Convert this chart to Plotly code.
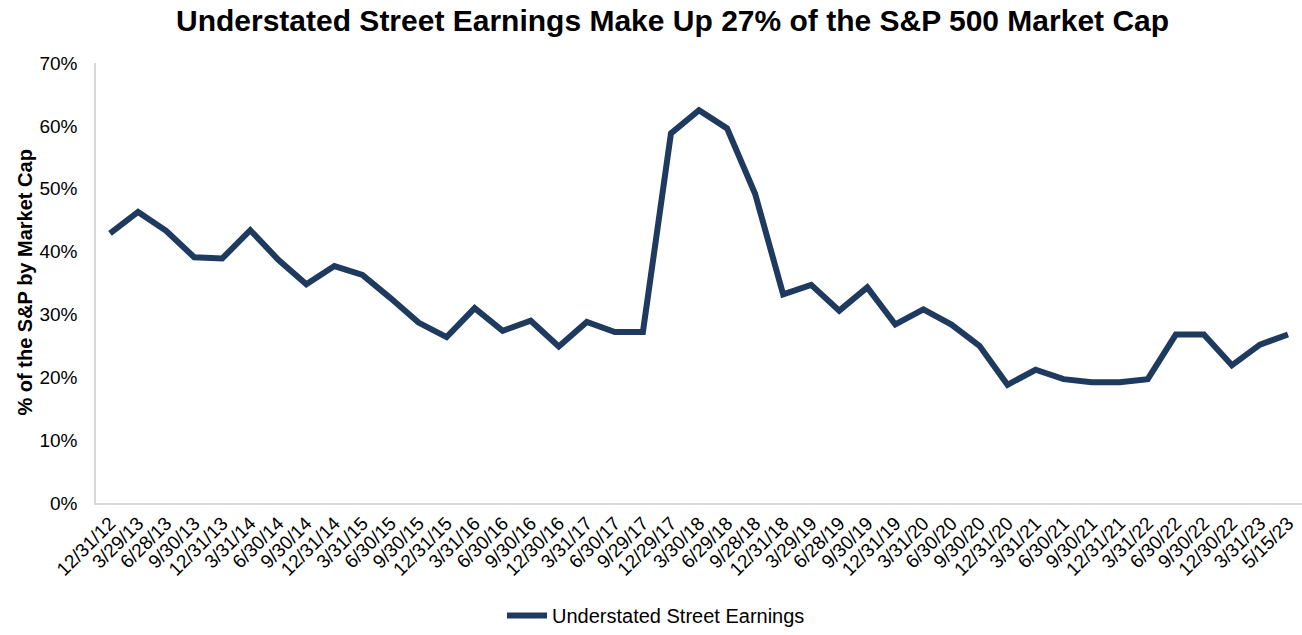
import plotly.graph_objects as go

dates = ["12/31/12","3/29/13","6/28/13","9/30/13","12/31/13","3/31/14","6/30/14","9/30/14",
         "12/31/14","3/31/15","6/30/15","9/30/15","12/31/15","3/31/16","6/30/16","9/30/16",
         "12/30/16","3/31/17","6/30/17","9/29/17","12/29/17","3/30/18","6/29/18","9/28/18",
         "12/31/18","3/29/19","6/28/19","9/30/19","12/31/19","3/31/20","6/30/20","9/30/20",
         "12/31/20","3/31/21","6/30/21","9/30/21","12/31/21","3/31/22","6/30/22","9/30/22",
         "12/30/22","3/31/23","5/15/23"]
values = [42.9, 46.3, 43.3, 39.1, 38.9, 43.4, 38.7, 34.8,
          37.7, 36.3, 32.6, 28.7, 26.4, 31.0, 27.4, 29.0,
          24.9, 28.8, 27.2, 27.2, 58.8, 62.5, 59.6, 49.2,
          33.2, 34.7, 30.6, 34.3, 28.4, 30.8, 28.4, 25.0,
          18.8, 21.2, 19.7, 19.2, 19.2, 19.7, 26.8, 26.8,
          21.9, 25.2, 26.8]
y_ticks = [0, 10, 20, 30, 40, 50, 60, 70]

navy = "#1F3A5F"
font_family = "Liberation Sans, Arial, sans-serif"

L, T, B = 96, 63, 508
PW, PH = 1302 - L, B - T

fig = go.Figure()
fig.add_trace(go.Scatter(
    x=dates, y=values, mode="lines", name="Understated Street Earnings",
    line=dict(color=navy, width=6, shape="linear"),
))

fig.update_layout(
    width=1302, height=635,
    margin=dict(l=L, r=0, t=T, b=635 - B),
    paper_bgcolor="white", plot_bgcolor="white",
    font=dict(family=font_family, color="#000000"),
    showlegend=True,
    legend=dict(orientation="h", x=(656 - L) / PW, xref="paper", xanchor="center",
                y=(B - 622) / PH, yanchor="middle", yref="paper",
                font=dict(size=20, family=font_family),
                itemwidth=40),
    annotations=[
        dict(text="<b>Understated Street Earnings Make Up 27% of the S&P 500 Market Cap</b>",
             xref="paper", yref="paper", x=(672 - L) / PW, y=(B - 20) / PH,
             xanchor="center", yanchor="middle", showarrow=False,
             font=dict(size=30, family=font_family)),
        dict(text="<b>% of the S&P by Market Cap</b>", xref="paper", yref="paper",
             x=-(L - 25) / PW, y=(B - 285) / PH, xanchor="center", yanchor="middle",
             textangle=-90, showarrow=False, font=dict(size=20, family=font_family)),
    ],
)

fig.update_xaxes(
    type="category", range=[-0.5, len(dates) - 0.5],
    showline=True, linecolor="#D9D9D9", linewidth=1.5,
    showgrid=False, ticks="", tickangle=-45,
    tickfont=dict(size=19, family=font_family),
    zeroline=False,
)
fig.update_yaxes(
    range=[0, 70], tickvals=y_ticks, ticktext=[f"{v}%" for v in y_ticks],
    showline=True, linecolor="#D9D9D9", linewidth=1.5,
    showgrid=False, zeroline=False, ticks="",
    ticklabelstandoff=13,
    tickfont=dict(size=19, family=font_family),
)

fig.write_html("out.html")
